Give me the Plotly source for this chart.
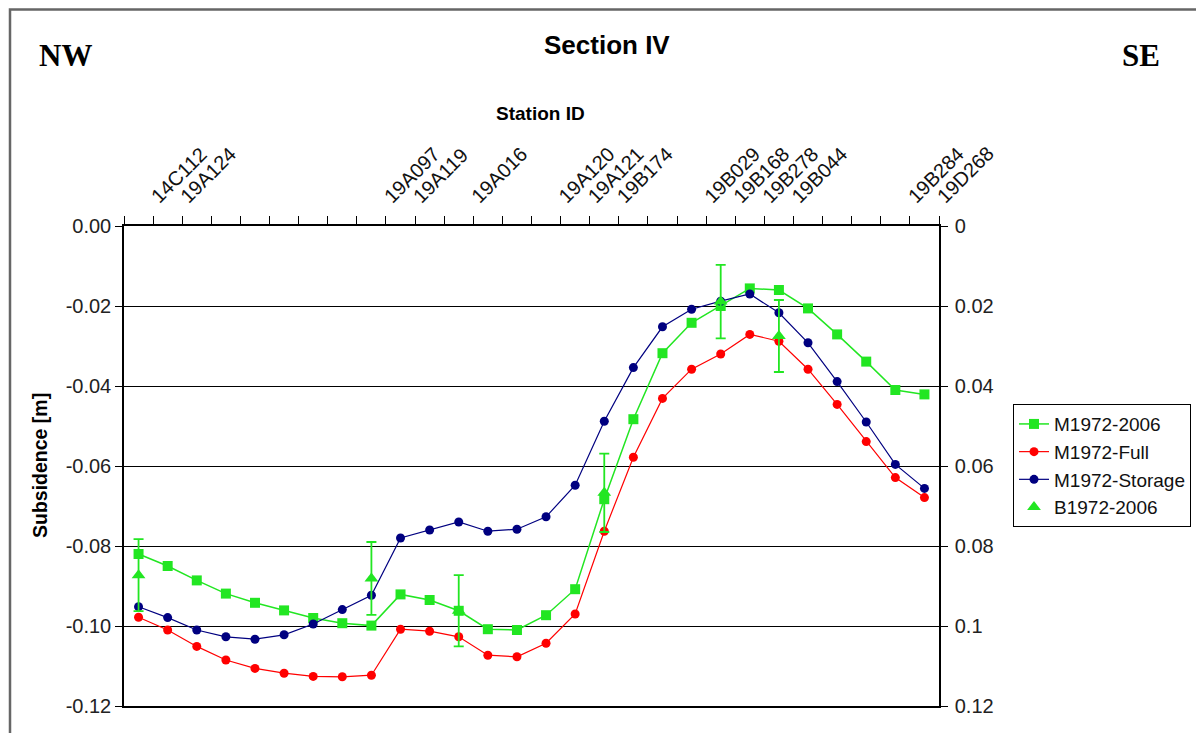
import plotly.graph_objects as go

# ---------------- data ----------------
station_ids = ["14C112", "19A124", "", "", "", "", "", "", "19A097", "19A119", "", "19A016", "", "",
               "19A120", "19A121", "19B174", "", "", "19B029", "19B168", "19B278", "19B044", "", "", "",
               "19B284", "19D268"]
categories = list(range(len(station_ids)))

m1972_2006 = [-0.0820, -0.0850, -0.0886, -0.0919, -0.0942, -0.0961, -0.0980, -0.0993, -0.0999, -0.0921,
              -0.0935, -0.0962, -0.1008, -0.1010, -0.0973, -0.0908, -0.0683, -0.0483, -0.0318, -0.0242,
              -0.0200, -0.0156, -0.0160, -0.0206, -0.0271, -0.0339, -0.0410, -0.0421]
m1972_full = [-0.0978, -0.1010, -0.1051, -0.1085, -0.1106, -0.1118, -0.1126, -0.1127, -0.1123, -0.1008,
              -0.1013, -0.1027, -0.1073, -0.1077, -0.1043, -0.0970, -0.0763, -0.0578, -0.0431, -0.0358,
              -0.0320, -0.0271, -0.0288, -0.0358, -0.0446, -0.0539, -0.0629, -0.0679]
m1972_storage = [-0.0952, -0.0979, -0.1010, -0.1027, -0.1033, -0.1022, -0.0995, -0.0959, -0.0923, -0.0780,
                 -0.0760, -0.0740, -0.0763, -0.0758, -0.0727, -0.0648, -0.0488, -0.0354, -0.0252, -0.0208,
                 -0.0188, -0.0170, -0.0217, -0.0292, -0.0389, -0.0490, -0.0596, -0.0656]
b_idx = [0, 8, 11, 16, 20, 22]
b1972_2006 = [-0.0873, -0.0881, -0.0962, -0.0667, -0.0189, -0.0275]
b_err = [0.0090, 0.0091, 0.0089, 0.0098, 0.0092, 0.0090]

left_tickvals = [0, -0.02, -0.04, -0.06, -0.08, -0.10, -0.12]
left_ticktext = ["0.00", "-0.02", "-0.04", "-0.06", "-0.08", "-0.10", "-0.12"]
right_tickvals = [0, 0.02, 0.04, 0.06, 0.08, 0.10, 0.12]
right_ticktext = ["0", "0.02", "0.04", "0.06", "0.08", "0.1", "0.12"]

# ---------------- figure ----------------
GREEN = "#22e622"
RED = "#ff0000"
NAVY = "#000080"

fig = go.Figure()
fig.add_trace(go.Scatter(x=categories, y=m1972_2006, name="M1972-2006", mode="lines+markers",
                         line=dict(color=GREEN, width=1.5),
                         marker=dict(symbol="square", size=10, color=GREEN)))
fig.add_trace(go.Scatter(x=categories, y=m1972_full, name="M1972-Full", mode="lines+markers",
                         line=dict(color=RED, width=1.2),
                         marker=dict(symbol="circle", size=9, color=RED)))
fig.add_trace(go.Scatter(x=categories, y=m1972_storage, name="M1972-Storage", mode="lines+markers",
                         line=dict(color=NAVY, width=1.2),
                         marker=dict(symbol="circle", size=9, color=NAVY)))
fig.add_trace(go.Scatter(x=b_idx, y=b1972_2006, name="B1972-2006", mode="markers",
                         marker=dict(symbol="triangle-up", size=12, color=GREEN),
                         error_y=dict(type="data", array=b_err, visible=True, color=GREEN,
                                      thickness=1.8, width=5)))
# invisible trace so the right axis is rendered
fig.add_trace(go.Scatter(x=[None], y=[None], yaxis="y2", showlegend=False, hoverinfo="skip"))

tick_font = dict(family="Liberation Sans, Arial", size=20, color="#222222")

# page body has an 8px margin: figure is shrunk so it fits the window
fig.update_layout(
    width=1196, height=725,
    margin=dict(l=116, r=265, t=218, b=27),
    paper_bgcolor="white", plot_bgcolor="white",
    showlegend=True,
    legend=dict(x=1.0908, y=0.629, xanchor="left", yanchor="top",
                bordercolor="black", borderwidth=1, bgcolor="white",
                font=dict(family="Liberation Sans, Arial", size=19, color="#111111"),
                itemwidth=30, tracegroupgap=0),
    xaxis=dict(range=[-0.5, 27.5], side="top", tickmode="array", tickvals=categories,
               ticktext=station_ids, tickangle=-45, ticks="",
               tickfont=dict(family="Liberation Sans, Arial", size=20, color="#111111"),
               ticklabelstandoff=9, ticklabelshift=14,
               showgrid=False, zeroline=False, showline=True, linecolor="black", linewidth=1.5,
               mirror=True,
               minor=dict(tickmode="linear", tick0=-0.5, dtick=1, ticks="outside", ticklen=8,
                          tickcolor="black", tickwidth=1, showgrid=False)),
    yaxis=dict(range=[-0.12, 0], tickmode="array", tickvals=left_tickvals, ticktext=left_ticktext,
               ticks="outside", ticklen=7, tickcolor="black", tickfont=tick_font,
               showgrid=True, gridcolor="black", gridwidth=1.3, zeroline=False,
               showline=True, linecolor="black", linewidth=1.5),
    yaxis2=dict(range=[0.12, 0], overlaying="y", side="right", tickmode="array",
                tickvals=right_tickvals, ticktext=right_ticktext, ticks="outside", ticklen=7,
                tickcolor="black", tickfont=tick_font, showgrid=False, zeroline=False,
                ticklabelstandoff=3,
                showline=True, linecolor="black", linewidth=1.5),
)


def px_x(x):
    return (x - 124) / 815


def px_y(y):
    return (706 - y) / 480


# outer chart-area border
fig.add_shape(type="rect", xref="paper", yref="paper",
              x0=px_x(10), x1=px_x(1215), y0=px_y(745), y1=px_y(9.5),
              line=dict(color="#666666", width=2.5), fillcolor="rgba(0,0,0,0)", layer="below")

fig.add_annotation(text="<b>Section IV</b>", xref="paper", yref="paper",
                   x=px_x(607), y=px_y(45), xanchor="center", yanchor="middle", showarrow=False,
                   font=dict(family="Liberation Sans, Arial", size=26, color="black"))
fig.add_annotation(text="<b>Station ID</b>", xref="paper", yref="paper",
                   x=px_x(540), y=px_y(113), xanchor="center", yanchor="middle", showarrow=False,
                   font=dict(family="Liberation Sans, Arial", size=19, color="black"))
fig.add_annotation(text="<b>Subsidence [m]</b>", xref="paper", yref="paper", textangle=-90,
                   x=px_x(40), y=px_y(466), xanchor="center", yanchor="middle", showarrow=False,
                   font=dict(family="Liberation Sans, Arial", size=19.5, color="black"))
fig.add_annotation(text="<b>NW</b>", xref="paper", yref="paper",
                   x=px_x(66), y=px_y(56), xanchor="center", yanchor="middle", showarrow=False,
                   font=dict(family="Liberation Serif, Times New Roman", size=31, color="black"))
fig.add_annotation(text="<b>SE</b>", xref="paper", yref="paper",
                   x=px_x(1141), y=px_y(56), xanchor="center", yanchor="middle", showarrow=False,
                   font=dict(family="Liberation Serif, Times New Roman", size=31, color="black"))

fig.write_html("out.html")
